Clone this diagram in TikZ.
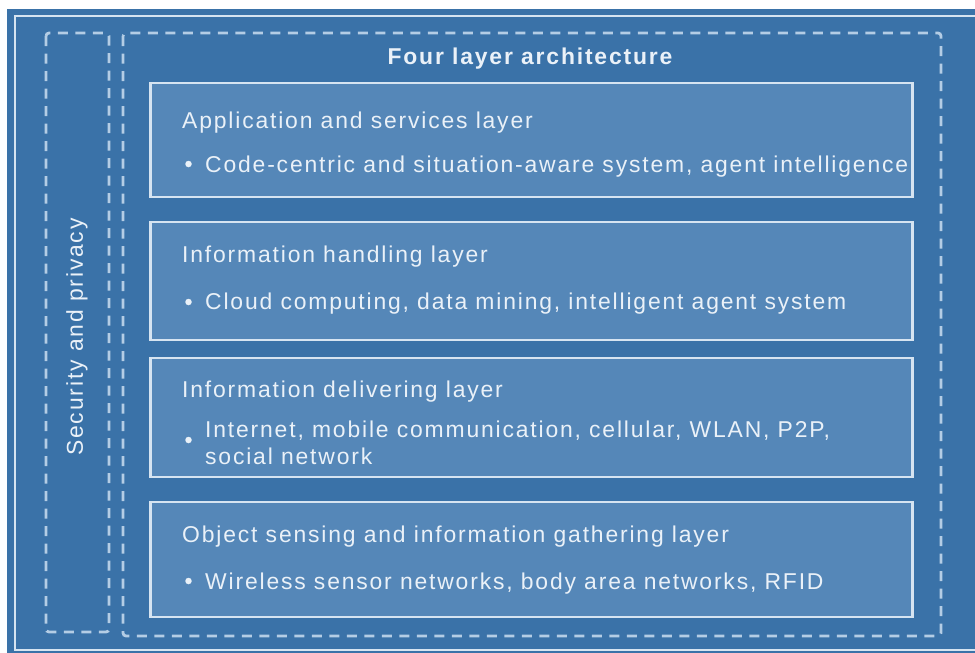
\documentclass[tikz,border=0pt]{standalone}
\usepackage{fontspec}
\setmainfont{Liberation Sans}
\newfontfamily\lsf[LetterSpace=8]{Liberation Sans}
\definecolor{bgblue}{HTML}{3A72A8}
\definecolor{boxblue}{HTML}{5587B8}
\definecolor{lineclr}{HTML}{D6E4F1}
\definecolor{dashclr}{HTML}{B4CDE5}
\definecolor{txtclr}{HTML}{EAF1F8}
\tikzset{
  layerbox/.style={draw=lineclr, line width=2.6pt, fill=boxblue, minimum width=762pt, inner sep=0pt},
  dashbox/.style={draw=dashclr, line width=2.8pt, dash pattern=on 10pt off 7.5pt, rounded corners=3pt},
  txt/.style={text=txtclr, font=\lsf\fontsize{22.9}{28}\selectfont, inner sep=0pt, anchor=base west},
  ttl/.style={text=txtclr, font=\lsf\bfseries\fontsize{22.9}{28}\selectfont, inner sep=0pt, anchor=base},
  dot/.style={circle, fill=txtclr, inner sep=0pt, minimum size=6.5pt}
}
\begin{document}
\begin{tikzpicture}[x=1pt,y=-1pt]
\useasboundingbox (0,0) rectangle (975,653);
\fill[bgblue] (7,9) rectangle (985,663);
\draw[lineclr, line width=2.6pt] (15,16) rectangle (990,650);
% dashed boxes
\draw[dashbox] (46,33) rectangle (109,632);
\draw[dashbox] (123,33) rectangle (941,636);
\node[text=txtclr, font=\lsf\fontsize{22.9}{28}\selectfont, inner sep=0pt, rotate=90] (sec) at (77,337) {Security and privacy};
\node[ttl] (title) at (530,64) {Four layer architecture};
% layer boxes
\node[layerbox, minimum height=114pt] (b1) at (531.5,140) {};
\node[layerbox, minimum height=118pt] (b2) at (531.5,281) {};
\node[layerbox, minimum height=119pt] (b3) at (531.5,417.5) {};
\node[layerbox, minimum height=115pt] (b4) at (531.5,559.5) {};
% texts
\node[txt] (t1) at (182,128) {Application and services layer};
\node[dot] (d1) at (188.5,164) {};
\node[txt] (s1) at (205,172) {Code-centric and situation-aware system, agent intelligence};
\node[txt] (t2) at (182,262) {Information handling layer};
\node[dot] (d2) at (188.5,302) {};
\node[txt] (s2) at (205,309) {Cloud computing, data mining, intelligent agent system};
\node[txt] (t3) at (182,397) {Information delivering layer};
\node[dot] (d3) at (188.5,440) {};
\node[txt] (s3) at (205,437) {Internet, mobile communication, cellular, WLAN, P2P,};
\node[txt] (s3b) at (205,464) {social network};
\node[txt] (t4) at (182,542) {Object sensing and information gathering layer};
\node[dot] (d4) at (188.5,581) {};
\node[txt] (s4) at (205,589) {Wireless sensor networks, body area networks, RFID};
\end{tikzpicture}
\end{document}
